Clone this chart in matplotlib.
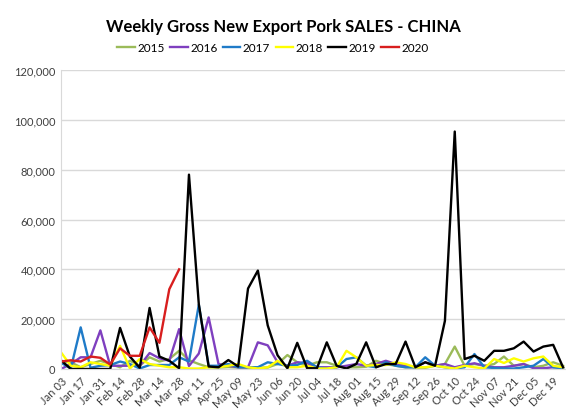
import numpy as np
import matplotlib
matplotlib.use("Agg")
import matplotlib.pyplot as plt

plt.rcParams['font.family'] = ['Lato', 'DejaVu Sans']

# weekly labels (every other week shown)
weeks = ["Jan 03", "Jan 10", "Jan 17", "Jan 24", "Jan 31", "Feb 07", "Feb 14", "Feb 21", "Feb 28",
         "Mar 07", "Mar 14", "Mar 21", "Mar 28", "Apr 04", "Apr 11", "Apr 18", "Apr 25", "May 02",
         "May 09", "May 16", "May 23", "May 30", "Jun 06", "Jun 13", "Jun 20", "Jun 27", "Jul 04",
         "Jul 11", "Jul 18", "Jul 25", "Aug 01", "Aug 08", "Aug 15", "Aug 22", "Aug 29", "Sep 05",
         "Sep 12", "Sep 19", "Sep 26", "Oct 03", "Oct 10", "Oct 17", "Oct 24", "Oct 31", "Nov 07",
         "Nov 14", "Nov 21", "Nov 28", "Dec 05", "Dec 12", "Dec 19", "Dec 26"]

# sales in metric tons
s2015 = [3000, 2700, 700, 2000, 3300, 2000, 700, 3300, 1300, 4700, 3000, 4000, 7300, 3500,
         2000, 700, 600, 800, 600, 500, 500, 600, 2000, 5600, 2700, 1300, 2700, 2700, 1300, 700,
         700, 900, 3300, 2000, 1300, 700, 600, 500, 1300, 2000, 9000, 1300, 2000, 1300, 2000,
         5000, 1300, 2000, 700, 1300, 2700, 1300]
s2016 = [0, 2000, 4700, 4700, 15500, 1300, 1300, 1300, 1300, 6400, 4300, 3300, 16000, 1200,
         6200, 20700, 2000, 1300, 700, 700, 10700, 9500, 2700, 1300, 2700, 2400, 700, 700, 700,
         1300, 2000, 1300, 2000, 3300, 2000, 1300, 700, 2700, 1300, 2000, 700, 1600, 2300, 1300,
         700, 700, 1300, 2000, 300, 300, 700, 700]
s2017 = [2500, 300, 16700, 500, 1300, 1600, 3000, 2000, 200, 1600, 1600, 1600, 4700, 3000,
         25800, 1300, 1300, 2000, 700, 700, 700, 2700, 2000, 1300, 1600, 3300, 700, 200, 700,
         4000, 4700, 1300, 700, 2700, 1300, 700, 700, 4700, 1300, 700, 200, 700, 6000, 700, 400,
         200, 200, 700, 1300, 4000, 700, 200]
s2018 = [6700, 1300, 700, 2700, 2000, 1300, 9300, 200, 4000, 2000, 1300, 700, 700, 200, 200,
         700, 700, 1300, 2000, 700, 200, 700, 3300, 700, 700, 1300, 200, 200, 700, 7300, 4700,
         1300, 1600, 1600, 2700, 2000, 700, 700, 1300, 700, 200, 1300, 700, 200, 4000, 2400,
         4300, 3000, 4300, 5000, 1300, 700]
s2019 = [3500, 0, 0, 0, 0, 0, 16500, 5000, 500, 24500, 5000, 3300, 300, 78000, 26000, 1000,
         700, 3600, 1000, 32300, 39500, 17500, 5500, 300, 10500, 300, 300, 10700, 1300, 200,
         2000, 10700, 700, 2000, 2000, 11000, 700, 2700, 1300, 19300, 95300, 4000, 5300, 3300,
         7300, 7300, 8300, 11000, 7000, 9000, 9700, 700]
s2020 = [3000, 3500, 3000, 5000, 4500, 1800, 8300, 5300, 5300, 16700, 10500, 32000, 40000]

years = ["2015", "2016", "2017", "2018", "2019", "2020"]
series = [s2015, s2016, s2017, s2018, s2019, s2020]
colors = ["#9BBB59", "#7F3FBF", "#1F7BC8", "#FFFF00", "#000000", "#D81E1E"]

fig = plt.figure(figsize=(5.66, 4.14), dpi=100)
ax = fig.add_axes([61/566, 44/414, 504/566, 299/414])

for yr, vals, c in zip(years, series, colors):
    ax.plot(np.arange(len(vals)), vals, color=c, lw=1.7, label=yr)

ax.set_xlim(0, 51.2)
ax.set_ylim(0, 120000)
ax.set_yticks(np.arange(0, 120001, 20000))
ax.set_yticklabels([f"{v:,}" for v in range(0, 120001, 20000)], fontsize=8, color="#404040")
ax.set_xticks(np.arange(0, 52, 2))
ax.set_xticklabels(weeks[::2], rotation=45, ha="right", rotation_mode="anchor",
                   fontsize=8, color="#404040")
ax.tick_params(length=0, pad=4)
ax.grid(axis="y", color="#D9D9D9", lw=1)
ax.set_axisbelow(True)
for s in ["top", "right"]:
    ax.spines[s].set_visible(False)
ax.spines["left"].set_color("#D9D9D9")
ax.spines["bottom"].set_color("#D9D9D9")

fig.suptitle("Weekly Gross New Export Pork SALES - CHINA", y=0.955, fontsize=12, fontweight="bold")
fig.legend(loc="upper center", bbox_to_anchor=(0.482, 0.922), ncol=6, frameon=False,
           fontsize=8.5, handlelength=1.5, handletextpad=0.2, columnspacing=0.45)

fig.savefig("out.png", dpi=100)
